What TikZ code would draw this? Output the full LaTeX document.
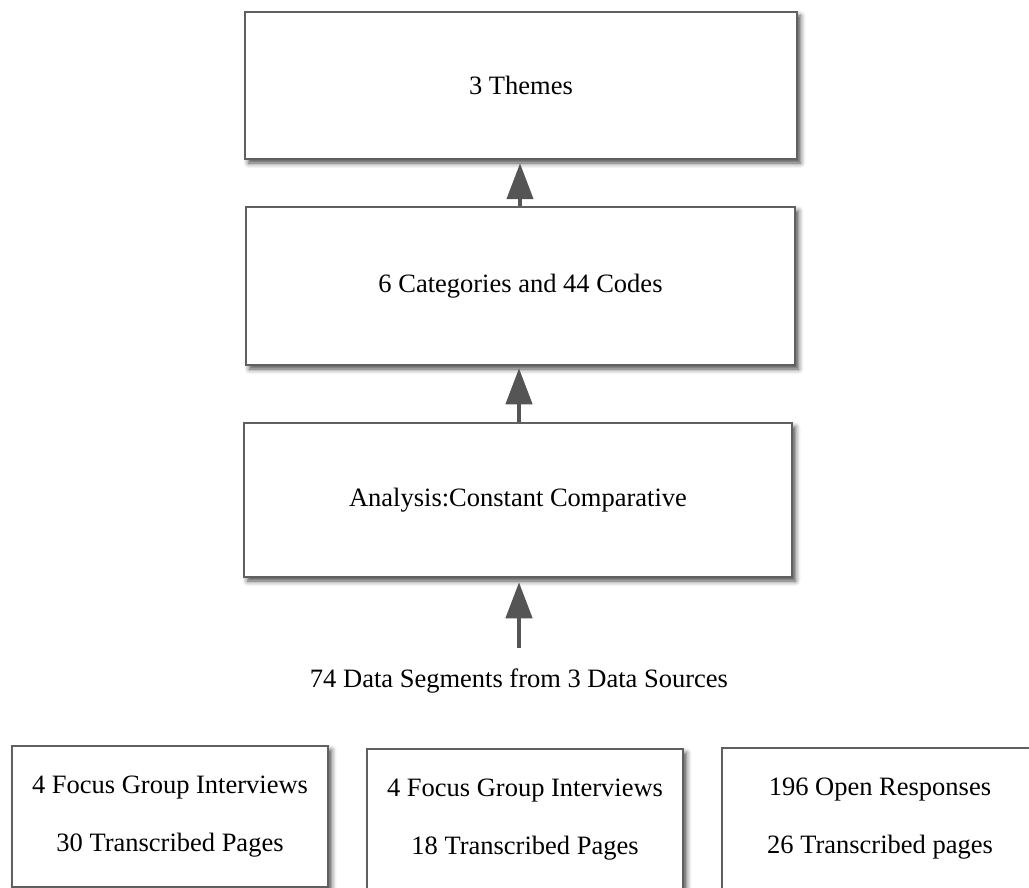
\documentclass[tikz,border=0pt]{standalone}
\usepackage{fontspec}
\setmainfont{Liberation Serif}
\usetikzlibrary{arrows.meta,shadows.blur}
\definecolor{boxline}{HTML}{606060}
\definecolor{arrowcol}{HTML}{555555}
\tikzset{
  flowbox/.style={draw=boxline, line width=2.5pt, fill=white, inner sep=0pt,
    blur shadow={shadow xshift=3.5pt, shadow yshift=-4pt, shadow blur radius=5pt, shadow opacity=70},
    font=\fontsize{26.5}{58}\selectfont, align=center},
  uparrow/.style={draw=arrowcol, line width=4.5pt,
    -{Triangle[length=36pt,width=26pt,fill=arrowcol]}},
  plainlabel/.style={font=\fontsize{26.5}{32}\selectfont}
}
\begin{document}
\begin{tikzpicture}[x=1pt,y=-1pt]
\useasboundingbox (0,0) rectangle (1029,888);
\clip (0,0) rectangle (1029,888);
\node[flowbox, minimum width=552pt, minimum height=147pt] (themes) at (521,85.5) {3 Themes};
\node[flowbox, minimum width=549pt, minimum height=158pt] (cats) at (520.5,286) {6 Categories and 44 Codes};
\node[flowbox, minimum width=548pt, minimum height=154pt] (anal) at (518,500) {Analysis:Constant Comparative};
\coordinate (tail) at (519,648);
\node[plainlabel] (segs) at (519,681) {74 Data Segments from 3 Data Sources};
\node[flowbox, minimum width=316pt, minimum height=141pt] (src1) at (170,816.5) {4 Focus Group Interviews\\30 Transcribed Pages};
\node[flowbox, minimum width=316pt, minimum height=141pt] (src2) at (525,819.5) {4 Focus Group Interviews\\18 Transcribed Pages};
\node[flowbox, minimum width=316pt, minimum height=141pt] (src3) at (880,818.5) {196 Open Responses\\26 Transcribed pages};
\draw[uparrow] (cats.north -| 520,0) -- ([yshift=-3pt]themes.south -| 520,0);
\draw[uparrow] (anal.north -| 519,0) -- ([yshift=-2pt]cats.south -| 519,0);
\draw[uparrow] (tail) -- ([yshift=-4pt]anal.south -| tail);
\end{tikzpicture}
\end{document}
